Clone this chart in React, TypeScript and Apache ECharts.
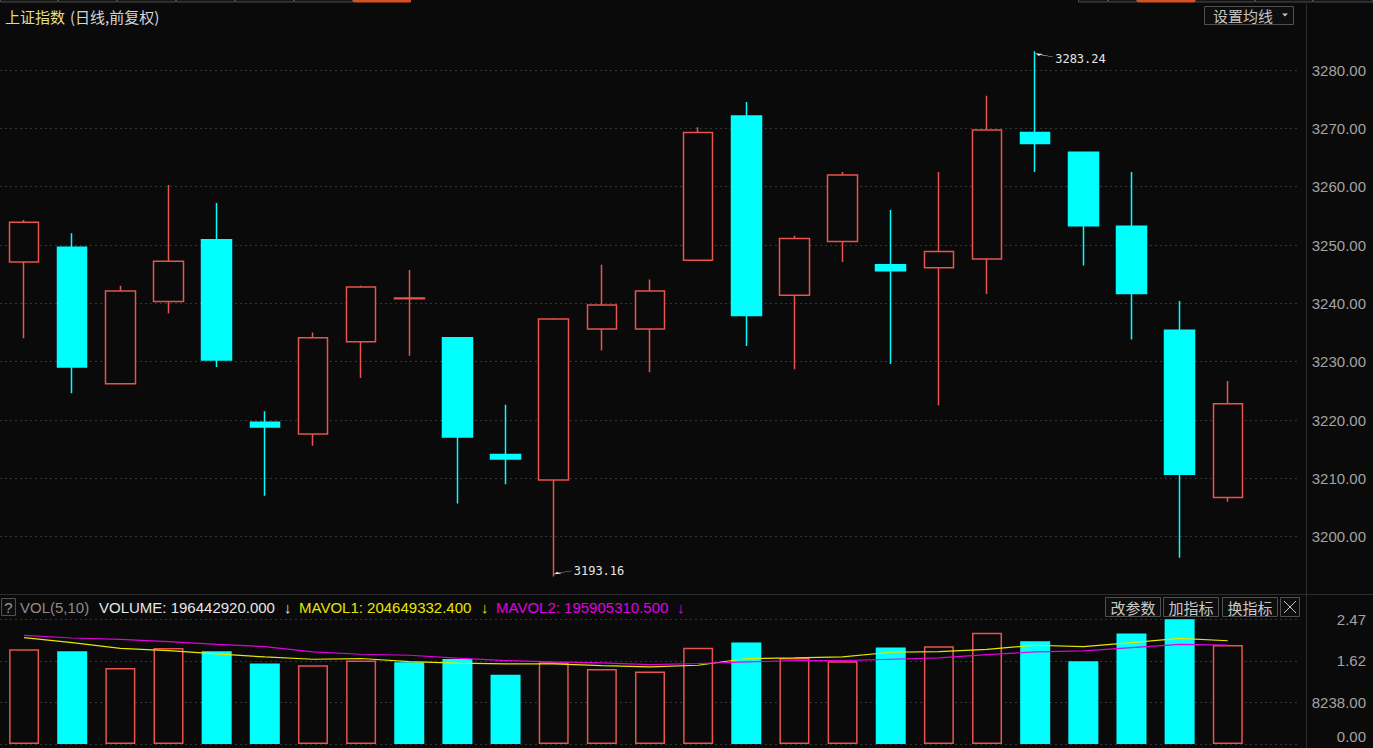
import React, { useEffect, useRef } from "react";
import * as echarts from "echarts";

// ---- data ----
const dayLabels = [
  "D01", "D02", "D03", "D04", "D05", "D06", "D07", "D08", "D09", "D10", "D11", "D12", "D13",
  "D14", "D15", "D16", "D17", "D18", "D19", "D20", "D21", "D22", "D23", "D24", "D25", "D26",
];
const opens = [
  3247.1, 3249.6, 3226.2, 3240.3, 3250.9, 3219.6, 3217.6, 3233.4, 3240.8, 3234.1, 3214.1, 3209.7, 3235.6,
  3235.6, 3247.4, 3272.1, 3241.4, 3250.6, 3246.6, 3246.1, 3247.6, 3269.3, 3265.9, 3253.2, 3235.4, 3206.7,
];
const closes = [
  3253.9, 3229.1, 3242.1, 3247.2, 3230.3, 3218.8, 3234.1, 3242.8, 3240.9, 3217.1, 3213.3, 3237.3, 3239.7,
  3242.1, 3269.3, 3237.9, 3251.1, 3262.0, 3245.6, 3248.9, 3269.7, 3267.4, 3253.3, 3241.7, 3210.7, 3222.8,
];
const lows = [
  3234.0, 3224.6, 3226.2, 3238.3, 3229.1, 3207.0, 3215.6, 3227.2, 3231.0, 3205.7, 3209.0, 3193.16, 3231.9,
  3228.2, 3247.3, 3232.7, 3228.7, 3247.1, 3229.6, 3222.5, 3241.6, 3262.5, 3246.5, 3233.8, 3196.4, 3206.0,
];
const highs = [
  3254.3, 3252.0, 3243.0, 3260.3, 3257.2, 3221.5, 3235.0, 3243.0, 3245.7, 3234.1, 3222.6, 3237.5, 3246.6,
  3244.1, 3270.2, 3274.5, 3251.6, 3262.5, 3256.0, 3262.5, 3275.6, 3283.24, 3265.9, 3262.5, 3240.4, 3226.7,
];
const volumes = [
  187700000, 183800000, 150800000, 190300000, 183800000, 159500000, 156100000, 165400000, 162100000,
  168600000, 137000000, 162100000, 148800000, 143700000, 190700000, 201000000, 170600000, 164000000,
  191100000, 193700000, 220700000, 203600000, 164000000, 218800000, 247000000, 196442920,
];
const mavol1 = [
  210900000, 201000000, 189700000, 185200000, 178500000, 172500000, 168000000, 169400000, 163400000,
  160100000, 158700000, 158700000, 155500000, 152800000, 156100000, 169400000, 170600000, 172500000,
  181800000, 183200000, 187700000, 195700000, 193100000, 201000000, 209500000, 204649332.4,
];
const mavol2 = [
  215400000, 210100000, 207500000, 203000000, 197600000, 193100000, 182400000, 177900000, 175900000,
  170000000, 165400000, 162600000, 160700000, 157500000, 159500000, 162600000, 165400000, 165400000,
  168000000, 170600000, 177300000, 182400000, 184400000, 191100000, 197600000, 195905310.5,
];
const priceMin = 3190;
const priceMax = 3290;
const priceStep = 10;
const volTickStep = 82380000;
const volMax = 247140000;
const volTickLabels = ["0.00", "8238.00", "1.62", "2.47"];

// ---- styles ----
const BG = "#0a0a0a";
const UP = "#e8534d";
const DOWN = "#00ffff";
const AXIS_TXT = "#a3a3a3";
const GRID_LINE = "#363636";
const SEP = "#2e2e2e";
const LATIN = '"Liberation Sans", Arial, sans-serif';
const CJK = '"Noto Sans CJK SC", sans-serif';

const HIGH_ARROW = "path://M0,0 L8,1.5 L5.6,2.8 L18,7.4 L17.7,8 L5,3.7 L3.6,6 Z";
const LOW_ARROW = "path://M0,8 L8,6.5 L5.6,5.2 L18,0.6 L17.7,0 L5,4.3 L3.6,2 Z";

function buildOption() {
  const cats = [...dayLabels, ""];
  const candleData = dayLabels.map((_, i) => [opens[i], closes[i], lows[i], highs[i]]);
  const volData = volumes.map((v, i) => {
    const prev = i === 0 ? opens[0] : closes[i - 1];
    const up = closes[i] >= prev;
    return {
      value: v,
      itemStyle: up
        ? { color: BG, borderColor: UP, borderWidth: 1.5 }
        : { color: DOWN, borderColor: DOWN, borderWidth: 1.5 },
    };
  });
  const fmt3 = (v: number) => v.toFixed(3);
  const last = volumes.length - 1;

  const txt = (x: number, y: number, text: string, fill: string, font: string, size = 15, align = "left") => ({
    type: "text",
    x,
    y,
    silent: true,
    style: { text, fill, fontFamily: font, fontSize: size, align, verticalAlign: "middle" },
  });
  const box = (x: number, y: number, w: number, h: number) => ({
    type: "rect",
    silent: true,
    shape: { x, y, width: w, height: h },
    style: { fill: "#0e0e0e", stroke: "#505050", lineWidth: 1 },
  });
  const button = (x: number, w: number, label: string) => [
    box(x + 0.5, 597.5, w, 19),
    txt(x + 0.5 + w / 2, 607, label, "#c8c8c8", CJK, 15, "center"),
  ];

  const topTabs: any[] = [];
  const leftTabs = [0, 58, 117, 176, 235, 294, 353, 411];
  for (let i = 0; i < leftTabs.length - 1; i++) {
    topTabs.push({
      type: "rect",
      silent: true,
      shape: { x: leftTabs[i] + 0.5, y: -1, width: leftTabs[i + 1] - leftTabs[i] - 1, height: 3 },
      style: { fill: i === 6 ? "#d5521f" : "#161616", stroke: i === 6 ? "#d5521f" : "#4a4a4a", lineWidth: 1 },
    });
  }
  const rightTabs = [1078, 1108, 1137, 1195, 1255, 1313, 1373];
  for (let i = 0; i < rightTabs.length - 1; i++) {
    topTabs.push({
      type: "rect",
      silent: true,
      shape: { x: rightTabs[i] + 0.5, y: -1, width: rightTabs[i + 1] - rightTabs[i] - 1, height: 3 },
      style: { fill: i === 2 ? "#d5521f" : "#161616", stroke: i === 2 ? "#d5521f" : "#4a4a4a", lineWidth: 1 },
    });
  }

  return {
    animation: false,
    backgroundColor: BG,
    grid: [
      { left: 0, width: 1300, top: 11.7, height: 583.3 },
      { left: 0, width: 1300, top: 619.3, height: 124.7 },
    ],
    xAxis: [0, 1].map((g) => ({
      type: "category",
      gridIndex: g,
      data: cats,
      boundaryGap: true,
      axisLine: { show: false },
      axisTick: { show: false },
      axisLabel: { show: false },
      splitLine: { show: false },
    })),
    yAxis: [
      {
        type: "value",
        gridIndex: 0,
        position: "right",
        offset: 6,
        min: priceMin,
        max: priceMax,
        interval: priceStep,
        axisLine: { show: false },
        axisTick: { show: false },
        axisLabel: {
          color: AXIS_TXT,
          fontFamily: LATIN,
          fontSize: 15,
          align: "right",
          margin: 60,
          showMinLabel: false,
          showMaxLabel: false,
          formatter: (v: number) => v.toFixed(2),
        },
        splitLine: {
          show: true,
          showMinLine: false,
          showMaxLine: false,
          lineStyle: { color: GRID_LINE, type: [2, 3], width: 1 },
        },
      },
      {
        type: "value",
        gridIndex: 1,
        position: "right",
        offset: 6,
        min: 0,
        max: volMax,
        interval: volTickStep,
        axisLine: { show: false },
        axisTick: { show: false },
        axisLabel: {
          color: AXIS_TXT,
          fontFamily: LATIN,
          fontSize: 15,
          align: "right",
          margin: 60,
          verticalAlignMinLabel: "bottom",
          formatter: (v: number) => volTickLabels[Math.round(v / volTickStep)] ?? "",
        },
        splitLine: { show: true, lineStyle: { color: GRID_LINE, type: [2, 3], width: 1 } },
      },
    ],
    series: [
      {
        type: "candlestick",
        xAxisIndex: 0,
        yAxisIndex: 0,
        data: candleData,
        barWidth: 30,
        itemStyle: {
          color: BG,
          color0: DOWN,
          borderColor: UP,
          borderColor0: DOWN,
          borderWidth: 1.5,
        },
        markPoint: {
          symbolKeepAspect: true,
          silent: true,
          itemStyle: { color: "#e6e6e6" },
          label: {
            show: true,
            position: "right",
            distance: 2,
            color: "#e6e6e6",
            fontFamily: '"DejaVu Sans Mono", monospace',
            fontSize: 12,
            formatter: (p: any) => Number(p.value).toFixed(2),
          },
          data: [
            {
              type: "max",
              valueDim: "highest",
              symbol: HIGH_ARROW,
              symbolSize: [18, 8],
              symbolOffset: [9, 4],
              label: { offset: [0, 4] },
            },
            {
              type: "min",
              valueDim: "lowest",
              symbol: LOW_ARROW,
              symbolSize: [18, 8],
              symbolOffset: [9, -4],
              label: { offset: [0, -2] },
            },
          ],
        },
      },
      {
        type: "bar",
        xAxisIndex: 1,
        yAxisIndex: 1,
        data: volData,
        barWidth: 30,
      },
      {
        type: "line",
        xAxisIndex: 1,
        yAxisIndex: 1,
        data: mavol1,
        symbol: "none",
        z: 5,
        lineStyle: { color: "#e6e600", width: 1.2 },
      },
      {
        type: "line",
        xAxisIndex: 1,
        yAxisIndex: 1,
        data: mavol2,
        symbol: "none",
        z: 5,
        lineStyle: { color: "#e000e0", width: 1.2 },
      },
    ],
    graphic: [
      ...topTabs,
      {
        type: "line",
        silent: true,
        shape: { x1: 0, y1: 594.5, x2: 1373, y2: 594.5 },
        style: { stroke: SEP, lineWidth: 1 },
      },
      {
        type: "line",
        silent: true,
        shape: { x1: 1306.5, y1: 4, x2: 1306.5, y2: 748 },
        style: { stroke: SEP, lineWidth: 1 },
      },
      txt(5, 16, "上证指数", "#e3de8a", CJK),
      txt(70, 16, "(日线,前复权)", "#d6d6d6", CJK),
      box(1204.5, 6.5, 89, 18),
      txt(1213, 15.5, "设置均线", "#c4c4c4", CJK),
      {
        type: "polygon",
        silent: true,
        shape: { points: [[1282, 13.5], [1288, 13.5], [1285, 16.5]] },
        style: { fill: "#c4c4c4" },
      },
      box(1.5, 598.5, 14, 17),
      txt(8.5, 607, "?", "#9a9a9a", LATIN, 15, "center"),
      txt(20, 607, "VOL(5,10)", "#8c8c8c", LATIN),
      txt(99, 607, "VOLUME: " + fmt3(volumes[last]), "#e6e6e6", LATIN),
      txt(284, 607, "↓", "#e6e6e6", LATIN),
      txt(299, 607, "MAVOL1: " + fmt3(mavol1[last]), "#e6e600", LATIN),
      txt(481, 607, "↓", "#e6e600", LATIN),
      txt(496, 607, "MAVOL2: " + fmt3(mavol2[last]), "#e000e0", LATIN),
      txt(677, 607, "↓", "#e000e0", LATIN),
      ...button(1105, 55, "改参数"),
      ...button(1163, 55, "加指标"),
      ...button(1222, 55, "换指标"),
      box(1280.5, 597.5, 19, 19),
      {
        type: "line",
        silent: true,
        shape: { x1: 1284, y1: 601, x2: 1296, y2: 613 },
        style: { stroke: "#c8c8c8", lineWidth: 1 },
      },
      {
        type: "line",
        silent: true,
        shape: { x1: 1296, y1: 601, x2: 1284, y2: 613 },
        style: { stroke: "#c8c8c8", lineWidth: 1 },
      },
    ],
  };
}

export default function App() {
  const ref = useRef<HTMLDivElement>(null);
  useEffect(() => {
    if (!ref.current) return;
    const chart = echarts.init(ref.current, null, { renderer: "svg" });
    chart.setOption(buildOption() as any);
    return () => chart.dispose();
  }, []);
  return (
    <div
      ref={ref}
      style={{ position: "fixed", left: 0, top: 0, width: 1373, height: 748, background: BG }}
    />
  );
}
